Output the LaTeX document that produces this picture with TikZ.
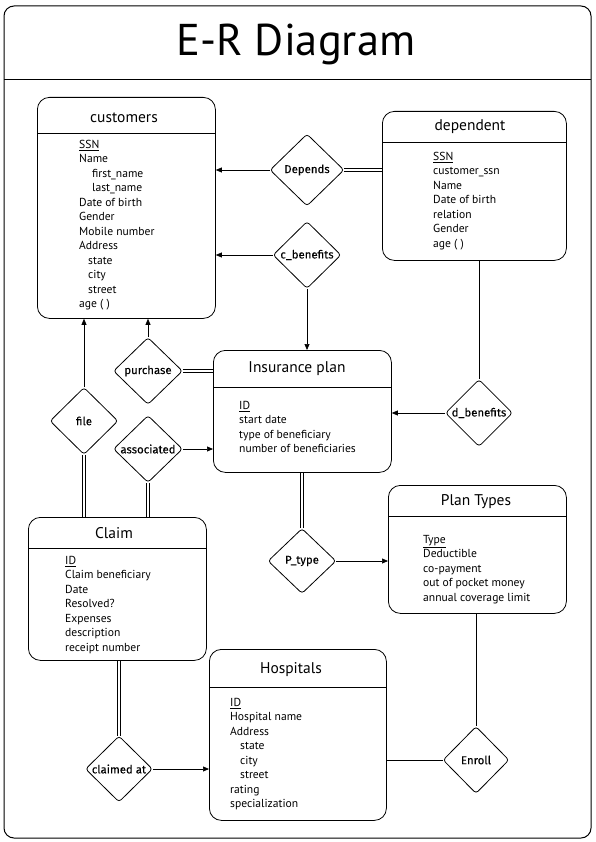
\documentclass[tikz,border=0pt]{standalone}
\usepackage{fontspec}
\setmainfont{PT Sans}
\newfontfamily\relfont[FakeBold=0.12]{Fira Sans}
\usetikzlibrary{shapes.geometric,arrows.meta}
\begin{document}
\begin{tikzpicture}[x=1pt,y=-1pt,
  entity/.style={draw, line width=0.8pt, rounded corners=12pt, anchor=north west, inner sep=0pt},
  rel/.style={draw, diamond, aspect=1, inner sep=0pt, line width=0.8pt, rounded corners=3pt,
     font=\relfont\fontsize{11.4}{13}\selectfont},
  etitle/.style={inner sep=0pt, font=\fontsize{15.5}{18}\selectfont},
  attrs/.style={anchor=north west, align=left, inner sep=0pt, font=\fontsize{11.6}{14.5}\selectfont},
  arr/.style={-{Triangle[length=6pt,width=5pt]}, line width=0.7pt},
  dbl/.style={double, double distance=2pt, line width=0.6pt},
  hline/.style={line width=0.8pt}]
\useasboundingbox (0,0) rectangle (595,842);
% frame
\draw[line width=1pt, rounded corners=10pt] (4,6) rectangle (591,838);
\draw[line width=1pt] (4,80) -- (591,80);
\node[inner sep=0pt, font=\fontsize{44.5}{50}\selectfont] (title) at (296,44) {E-R Diagram};

% entities
\node[entity, minimum width=178pt, minimum height=221pt] (cust) at (37,97) {};
\draw[hline] (cust.west |- 0,133) -- (cust.east |- 0,133);
\node[etitle] (custT) at (124,118) {customers};
\node[attrs] (custA) at (79,140) {\underline{SSN}\\Name\\\hspace*{13pt}first\_name\\\hspace*{13pt}last\_name\\Date of birth\\Gender\\Mobile number\\Address\\\hspace*{9pt}state\\\hspace*{9pt}city\\\hspace*{9pt}street\\age ( )};

\node[entity, minimum width=184pt, minimum height=149pt] (dep) at (382,111) {};
\draw[hline] (dep.west |- 0,142) -- (dep.east |- 0,142);
\node[etitle] (depT) at (470,127) {dependent};
\node[attrs] (depA) at (433,152) {\underline{SSN}\\customer\_ssn\\Name\\Date of birth\\relation\\Gender\\age ( )};

\node[entity, minimum width=178pt, minimum height=122pt] (ins) at (213,350) {};
\draw[hline] (ins.west |- 0,387) -- (ins.east |- 0,387);
\node[etitle] (insT) at (297,369) {Insurance plan};
\node[attrs] (insA) at (239,401) {\underline{ID}\\start date\\type of beneficiary\\number of beneficiaries};

\node[entity, minimum width=178pt, minimum height=128pt] (plan) at (388,485) {};
\draw[hline] (plan.west |- 0,516) -- (plan.east |- 0,516);
\node[etitle] (planT) at (476,502) {Plan Types};
\node[attrs] (planA) at (423,535) {\underline{Type}\\Deductible\\co-payment\\out of pocket money\\annual coverage limit};

\node[entity, minimum width=178pt, minimum height=143pt] (claim) at (28,517) {};
\draw[hline] (claim.west |- 0,548) -- (claim.east |- 0,548);
\node[etitle] (claimT) at (114,533) {Claim};
\node[attrs] (claimA) at (65,556) {\underline{ID}\\Claim beneficiary\\Date\\Resolved?\\Expenses\\description\\receipt number};

\node[entity, minimum width=177pt, minimum height=171pt] (hosp) at (209,649) {};
\draw[hline] (hosp.west |- 0,687) -- (hosp.east |- 0,687);
\node[etitle] (hospT) at (291,670) {Hospitals};
\node[attrs] (hospA) at (230,698) {\underline{ID}\\Hospital name\\Address\\\hspace*{10pt}state\\\hspace*{10pt}city\\\hspace*{10pt}street\\rating\\specialization};

% relationships
\node[rel, minimum width=74pt, minimum height=72pt] (depends) at (307,170) {\makebox[0pt]{Depends}};
\node[rel, minimum width=68pt, minimum height=67pt] (cben) at (307,255) {\makebox[0pt]{c\_benefits}};
\node[rel, minimum width=69pt, minimum height=67pt] (purchase) at (148,371) {\makebox[0pt]{purchase}};
\node[rel, minimum width=68pt, minimum height=67pt] (file) at (84,421) {\makebox[0pt]{file}};
\node[rel, minimum width=69pt, minimum height=67pt] (assoc) at (148,449) {\makebox[0pt]{associated}};
\node[rel, minimum width=67pt, minimum height=67pt] (dben) at (479,413) {\makebox[0pt]{d\_benefits}};
\node[rel, minimum width=68pt, minimum height=65pt] (ptype) at (302,561) {\makebox[0pt]{P\_type}};
\node[rel, minimum width=67pt, minimum height=66pt] (claimed) at (119,769) {\makebox[0pt]{claimed at}};
\node[rel, minimum width=66pt, minimum height=67pt] (enroll) at (476,760) {\makebox[0pt]{Enroll}};

% connectors
\draw[arr] (depends.west) -- (cust.east |- depends.west);
\draw[dbl] (depends.east) -- (dep.west |- depends.east);
\draw[arr] (cben.west) -- (cust.east |- cben.west);
\draw[arr] (cben.south) -- (ins.north -| cben.south);
\draw[arr] (purchase.north) -- (cust.south -| purchase.north);
\draw[dbl] (purchase.east) -- (ins.west |- purchase.east);
\draw[arr] (file.north) -- (cust.south -| file.north);
\draw[dbl] (file.south) -- (claim.north -| file.south);
\draw[arr] (assoc.east) -- (ins.west |- assoc.east);
\draw[dbl] (assoc.south) -- (claim.north -| assoc.south);
\draw[line width=0.7pt] (dep.south -| dben.north) -- (dben.north);
\draw[arr] (dben.west) -- (ins.east |- dben.west);
\draw[dbl] (ins.south -| ptype.north) -- (ptype.north);
\draw[arr] (ptype.east) -- (plan.west |- ptype.east);
\draw[dbl] (claim.south -| claimed.north) -- (claimed.north);
\draw[arr] (claimed.east) -- (hosp.west |- claimed.east);
\draw[line width=0.7pt] (hosp.east |- enroll.west) -- (enroll.west);
\draw[line width=0.7pt] (plan.south -| enroll.north) -- (enroll.north);
\end{tikzpicture}
\end{document}
